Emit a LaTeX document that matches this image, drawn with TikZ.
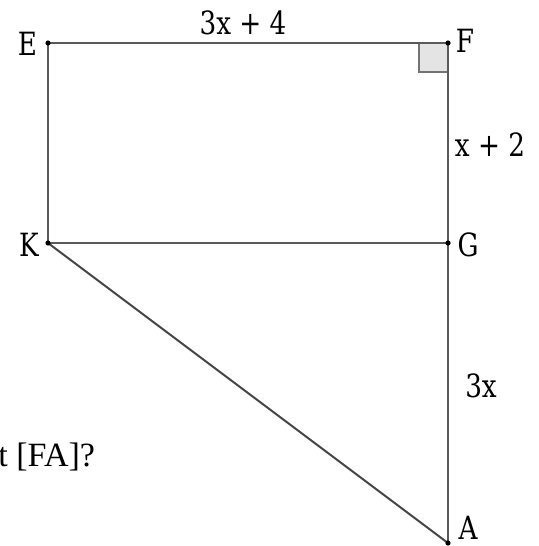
\documentclass[tikz,border=0pt]{standalone}
\usepackage{fontspec}
\setmainfont{DejaVu Serif}[FakeStretch=0.82]
\newfontfamily\askfont{Liberation Serif}
\usepackage{xcolor}
\definecolor{Edge}{HTML}{5A5A5A}
\definecolor{Slant}{HTML}{454545}
\definecolor{Mark}{HTML}{E4E4E4}
\usetikzlibrary{positioning}

\begin{document}
\begin{tikzpicture}[x=0.5pt,y=-0.5pt,every node/.style={font=\fontsize{16}{18}\selectfont,inner sep=0pt}]
\useasboundingbox (0,0) rectangle (539,546);
\coordinate (E) at (48,43);
\coordinate (F) at (448,43);
\coordinate (K) at (48,243);
\coordinate (G) at (448,243);
\coordinate (A) at (448,543);
\filldraw[fill=Mark,draw=Edge!85,line width=1pt] (F) rectangle ++(-29,29);
\draw[Edge,line width=1.45pt] (E)--(F)--(A);
\draw[Edge,line width=1.45pt] (E)--(K)--(G);
\draw[Slant,line width=1pt] (K)--(A);
\foreach \p in {E,F,K,G,A} \fill (\p) circle (2.6);
\node (lE) at (27.5,44) {E};
\node (lF) at (465,41) {F};
\node (lK) at (29,245) {K};
\node (lG) at (468,245) {G};
\node (lA) at (468,528) {A};
\node (lEF) at (243,23) {3x + 4};
\node (lFG) at (490,145) {x + 2};
\node (lGA) at (481,386) {3x};
\node[anchor=base west,font=\askfont\fontsize{17}{19}\selectfont] (ask) at (-2,466) {t [FA]?};
\end{tikzpicture}
\end{document}
